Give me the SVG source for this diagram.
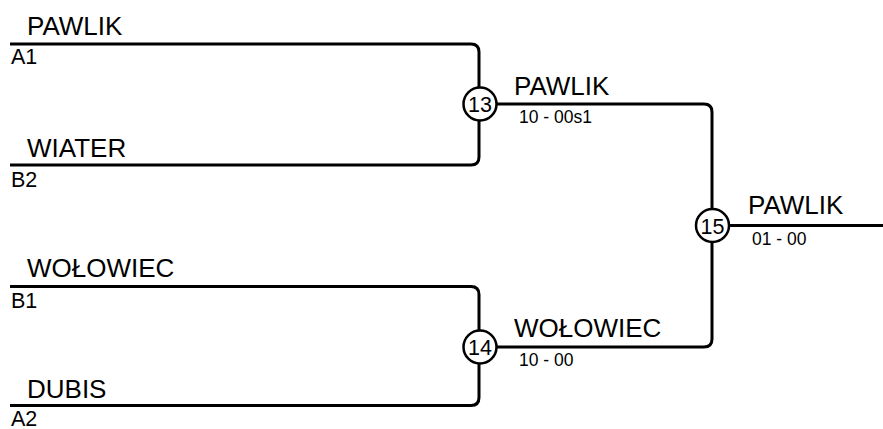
<svg xmlns="http://www.w3.org/2000/svg" width="883" height="429" viewBox="0 0 883 429">
<style>
.ln{fill:none;stroke:#000;stroke-width:3}
.c{fill:#fff;stroke:#000;stroke-width:2.5}
text{font-family:"Liberation Sans",Arial,sans-serif;fill:#000}
.nm{font-size:26px}
.sd{font-size:21.5px}
.sc{font-size:17.5px}
.num{font-size:21.5px;text-anchor:middle}
</style>
<rect width="883" height="429" fill="#fff"/>
<g id="connectors">
<path class="ln" d="M10,44 H471 Q479,44 479,52 V157 Q479,165 471,165 H10"/>
<path class="ln" d="M10,286.5 H471 Q479,286.5 479,294.5 V397.5 Q479,405.5 471,405.5 H10"/>
<path class="ln" d="M480,104 H704 Q712,104 712,112 V339 Q712,347 704,347 H480"/>
<path class="ln" d="M712,225.5 H883"/>
</g>
<g id="p1"><text class="nm" x="27" y="35">PAWLIK</text><text class="sd" x="11" y="64">A1</text></g>
<g id="p2"><text class="nm" x="27" y="157">WIATER</text><text class="sd" x="11" y="186.5">B2</text></g>
<g id="p3"><text class="nm" x="27" y="277">WOŁOWIEC</text><text class="sd" x="11" y="308">B1</text></g>
<g id="p4"><text class="nm" x="27" y="398">DUBIS</text><text class="sd" x="11" y="426">A2</text></g>
<g id="m13"><circle class="c" cx="480" cy="104" r="16.5"/><text class="num" x="480" y="112">13</text>
<text class="nm" x="514" y="94.5">PAWLIK</text><text class="sc" x="519" y="123">10 - 00s1</text></g>
<g id="m14"><circle class="c" cx="480" cy="347" r="16.5"/><text class="num" x="480" y="355">14</text>
<text class="nm" x="514" y="336.5">WOŁOWIEC</text><text class="sc" x="519" y="365.5">10 - 00</text></g>
<g id="m15"><circle class="c" cx="712.5" cy="225.5" r="16.5"/><text class="num" x="712.5" y="233.5">15</text>
<text class="nm" x="748" y="213.5">PAWLIK</text><text class="sc" x="752" y="245">01 - 00</text></g>
</svg>
